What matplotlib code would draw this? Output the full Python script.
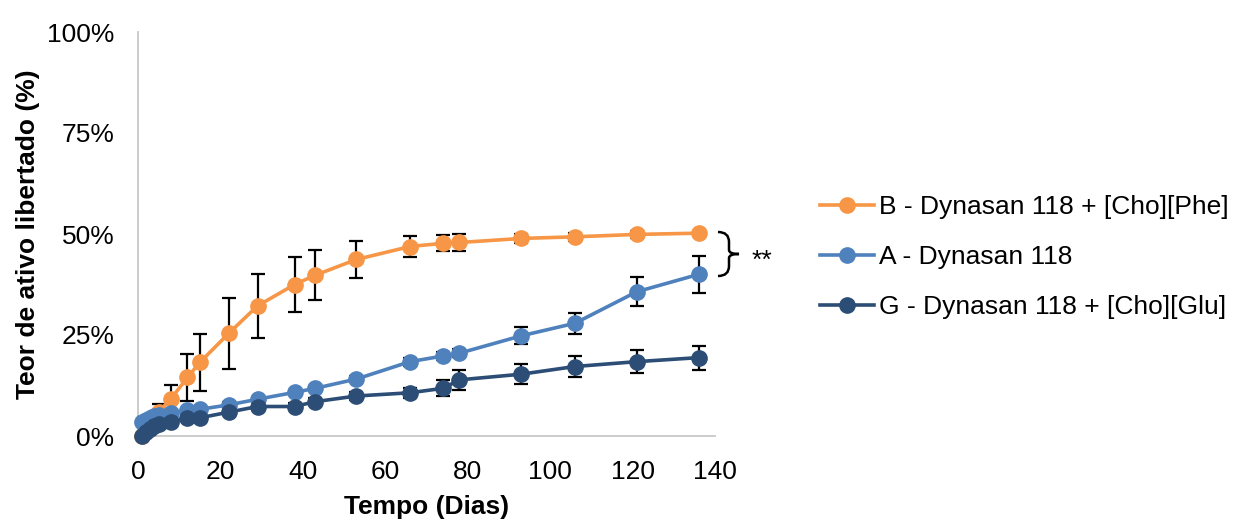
import matplotlib
matplotlib.use("Agg")
import matplotlib.pyplot as plt
from matplotlib.ticker import FuncFormatter
from matplotlib.path import Path
from matplotlib.patches import PathPatch

plt.rcParams['font.family'] = ['Liberation Sans', 'DejaVu Sans']

days_B = [1, 2, 3, 4, 5, 8, 12, 15, 22, 29, 38, 43, 53, 66, 74, 78, 93, 106, 121, 136]
val_B = [0, 1.5, 3.0, 4.5, 6.0, 9.2, 14.5, 18.2, 25.4, 32.2, 37.5, 39.8, 43.7, 46.9, 47.7, 47.9, 48.9, 49.3, 49.9, 50.2]
err_B = [0, 0.5, 1.0, 1.5, 2.0, 3.5, 5.9, 7.1, 8.8, 7.9, 6.8, 6.2, 4.5, 2.5, 2.0, 2.0, 1.2, 1.0, 0.8, 0.5]

days_A = [1, 2, 3, 4, 5, 8, 12, 15, 22, 29, 38, 43, 53, 66, 74, 78, 93, 106, 121, 136]
val_A = [3.5, 4.0, 4.5, 5.0, 5.2, 5.6, 6.4, 6.6, 7.7, 9.1, 10.8, 11.8, 14.1, 18.4, 19.8, 20.5, 24.8, 27.9, 35.7, 40.0]
err_A = [0.3, 0.3, 0.3, 0.4, 0.4, 0.5, 0.5, 0.5, 0.6, 0.6, 0.7, 0.7, 0.8, 1.0, 1.0, 1.0, 2.1, 2.6, 3.6, 4.5]

days_G = [1, 2, 3, 4, 5, 8, 12, 15, 22, 29, 38, 43, 53, 66, 74, 78, 93, 106, 121, 136]
val_G = [0, 1.0, 1.8, 2.5, 3.0, 3.5, 4.4, 4.5, 5.9, 7.3, 7.3, 8.5, 9.9, 10.7, 11.8, 13.9, 15.3, 17.2, 18.4, 19.4]
err_G = [0, 0.2, 0.3, 0.3, 0.4, 0.5, 0.6, 0.6, 0.7, 0.8, 0.8, 0.9, 1.0, 1.2, 2.0, 2.4, 2.5, 2.6, 2.9, 3.0]

labels = ["B - Dynasan 118 + [Cho][Phe]", "A - Dynasan 118", "G - Dynasan 118 + [Cho][Glu]"]
colors = ["#F79646", "#4F81BD", "#2C4D75"]

W, H = 1234, 519
fig = plt.figure(figsize=(W/100, H/100), dpi=100)
ax = fig.add_axes([138/W, 1-436/H, (715-138)/W, (436-32)/H])

series = [(days_B, val_B, err_B), (days_A, val_A, err_A), (days_G, val_G, err_G)]
handles = []
for (d, v, e), lab, c in zip(series, labels, colors):
    ax.errorbar(d, v, yerr=e, fmt='none', ecolor='black', elinewidth=1.6,
                capsize=5, capthick=1.6, zorder=2, clip_on=False)
    h, = ax.plot(d, v, '-o', color=c, lw=2.6, markersize=11, label=lab,
                 zorder=3, clip_on=False)
    handles.append(h)

ax.set_xlim(0, 140)
ax.set_ylim(0, 100)
ax.set_xticks(range(0, 141, 20))
ax.set_yticks([0, 25, 50, 75, 100])
ax.yaxis.set_major_formatter(FuncFormatter(lambda v, p: f"{int(v)}%"))
ax.tick_params(length=0, labelsize=19, colors='black')
ax.tick_params(axis='x', pad=17)
ax.tick_params(axis='y', pad=17)
for s in ['top', 'right']:
    ax.spines[s].set_visible(False)
for s in ['left', 'bottom']:
    ax.spines[s].set_color('#C8C8C8')
    ax.spines[s].set_linewidth(1.3)
    ax.spines[s].set_zorder(1)

ax.set_xlabel("Tempo (Dias)", fontsize=19, fontweight='bold', labelpad=8)
ax.set_ylabel("Teor de ativo libertado (%)", fontsize=19, fontweight='bold', labelpad=5)

# curly brace in pixel coordinates (figure pixels, y from top)
def P(x, y):
    return (x / W, 1 - y / H)
verts = [P(718, 232), P(729, 232), P(729, 242),
         P(729, 250),
         P(729, 254), P(739, 254),
         P(729, 254), P(729, 258),
         P(729, 266),
         P(729, 276), P(718, 276)]
codes = [Path.MOVETO, Path.CURVE3, Path.CURVE3,
         Path.LINETO,
         Path.CURVE3, Path.CURVE3,
         Path.CURVE3, Path.CURVE3,
         Path.LINETO,
         Path.CURVE3, Path.CURVE3]
brace = PathPatch(Path(verts, codes), transform=fig.transFigure, fill=False,
                  edgecolor='black', lw=1.8)
fig.add_artist(brace)
fig.text(762/W, 1-261/H, "**", fontsize=19, va='center', ha='center')

leg = fig.legend(handles=handles, labels=labels, loc='center left',
                 bbox_to_anchor=(820/W, 1-257/H), frameon=False,
                 fontsize=19, handlelength=2.05, numpoints=1, labelspacing=0.98,
                 handletextpad=0.2, borderaxespad=0, borderpad=0)

fig.savefig("out.png", dpi=100)
